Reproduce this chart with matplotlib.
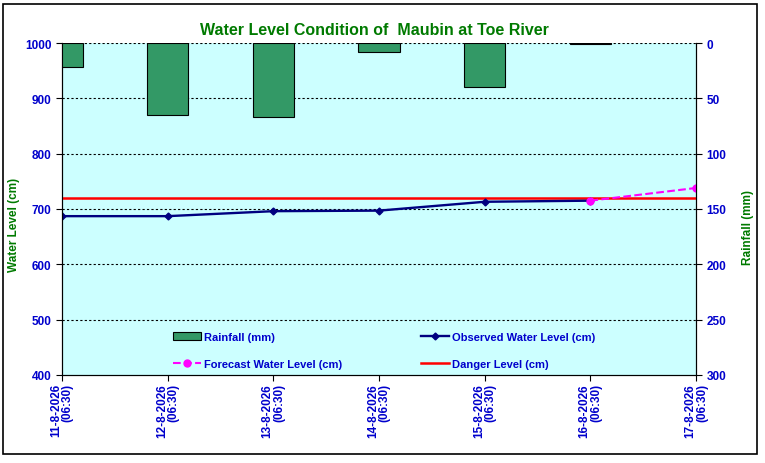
import numpy as np
import matplotlib
matplotlib.use('Agg')
import matplotlib.pyplot as plt
from matplotlib.patches import Rectangle

dates = ['11-8-2026', '12-8-2026', '13-8-2026', '14-8-2026',
         '15-8-2026', '16-8-2026', '17-8-2026']
times = ['(06:30)'] * 7
rainfall = [22, 65, 67, 8, 40, 1, 0]
observed = [687, 687, 696, 697, 713, 715]
forecast_idx = [5, 6]
forecast = [715, 738]
danger = 720

plt.rcParams['font.family'] = ['Liberation Sans', 'DejaVu Sans']
plt.rcParams['font.weight'] = 'bold'

blue = '#0000CC'
green = '#007A00'

fig = plt.figure(figsize=(7.65, 4.64), dpi=100)
fig.patch.set_facecolor('white')
fig.patches.append(Rectangle((0.004, 0.019), 0.986, 0.971, transform=fig.transFigure,
                             fill=False, edgecolor='black', linewidth=1.2))

ax = fig.add_axes([0.081, 0.19, 0.829, 0.715])
ax.set_facecolor('#CCFFFF')
x = np.arange(len(dates))

ax.set_ylim(400, 1000)
ax.set_xlim(0, len(dates) - 1)
ax.set_yticks(np.arange(400, 1001, 100))
for yv in range(500, 1001, 100):
    ax.axhline(yv, color='black', linestyle=(0, (2, 2)), linewidth=0.8, zorder=1)

danger_line, = ax.plot([0, len(dates) - 1], [danger, danger], color='#FF0000',
                       linewidth=1.8, zorder=3, label='Danger Level (cm)')
obs_line, = ax.plot(x[:len(observed)], observed, color='#000080', marker='D',
                    markersize=3.5, linewidth=1.7, zorder=4,
                    label='Observed Water Level (cm)')
fc_line, = ax.plot(forecast_idx, forecast, color='#FF00FF', linestyle='--',
                   marker='o', markersize=5, linewidth=1.5, zorder=5,
                   label='Forecast Water Level (cm)')

ax2 = ax.twinx()
ax2.set_ylim(300, 0)
ax2.set_yticks(np.arange(0, 301, 50))
rain_x = [xi for xi, r in zip(x, rainfall) if r > 0]
rain_v = [r for r in rainfall if r > 0]
bars = ax2.bar(rain_x, rain_v, width=0.39, color='#339966', edgecolor='black',
               linewidth=0.8, label='Rainfall (mm)', zorder=2)
ax2.set_xlim(0, len(dates) - 1)

ax.set_xticks(x)
ax.set_xticklabels([d + '\n' + t for d, t in zip(dates, times)], rotation=90,
                   ha='center', va='top', multialignment='right',
                   fontsize=8.5, color=blue, fontweight='bold', linespacing=0.95)
for a in (ax, ax2):
    a.tick_params(axis='y', labelsize=8.5, labelcolor=blue, length=4, width=0.8)
    for lab in a.get_yticklabels():
        lab.set_fontweight('bold')
    a.spines['top'].set_visible(False)
ax.tick_params(axis='x', length=4, width=0.8, pad=2)

ax.set_ylabel('Water Level (cm)', color=green, fontsize=8.5, fontweight='bold')
ax.yaxis.set_label_coords(-0.066, 0.455)
ax2.set_ylabel('Rainfall (mm)', color=green, fontsize=8.5, fontweight='bold',
               rotation=90)
ax2.yaxis.set_label_coords(1.073, 0.446)

fig.text(0.49, 0.935, 'Water Level Condition of  Maubin at Toe River', ha='center',
         va='center', color=green, fontsize=11.5, fontweight='bold')

handles = [bars, fc_line, obs_line, danger_line]
labels = [h.get_label() for h in handles]
leg = ax2.legend(handles, labels, ncol=2, loc='center',
                 bbox_to_anchor=(0.508, 0.074), frameon=False, fontsize=8,
                 handlelength=2.5, columnspacing=7.1, labelspacing=1.55,
                 handletextpad=0.3)
for txt in leg.get_texts():
    txt.set_color(blue)
    txt.set_fontweight('bold')

fig.savefig('out.png', dpi=100)
plt.close()
